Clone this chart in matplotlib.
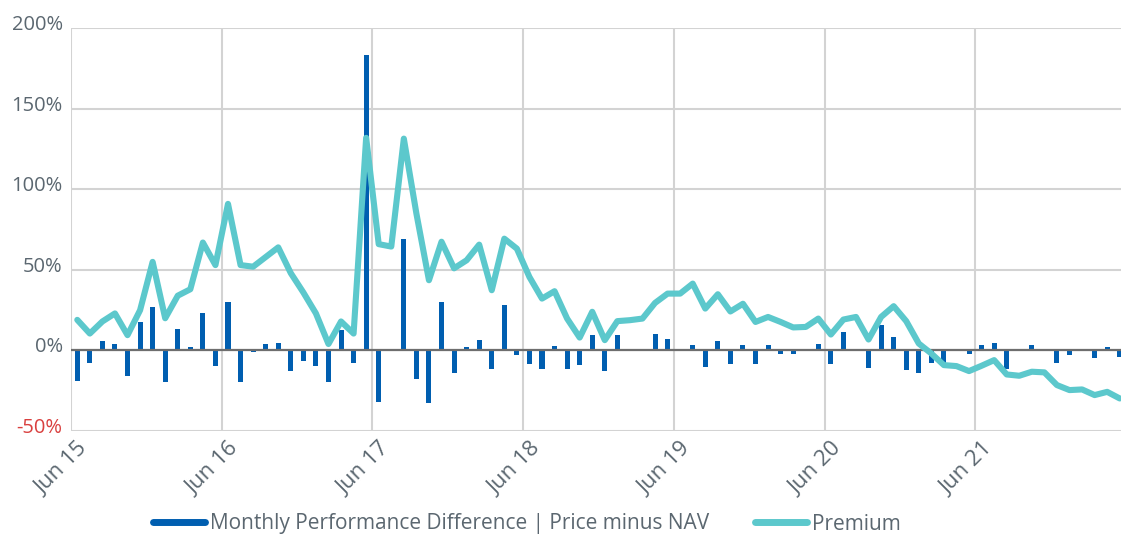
import numpy as np
import matplotlib
matplotlib.use("Agg")
import matplotlib.pyplot as plt
from matplotlib.lines import Line2D
from matplotlib.transforms import ScaledTranslation

# monthly data starting Jun 2015, values in %
premium = [19, 10.5, 18, 23, 9.5, 25, 55, 20, 34, 38, 67, 53,
           91, 53, 52, 58, 64, 48, 36, 23, 4, 18, 10.5, 132,
           66, 64.5, 131.5, 85, 43.6, 67.5, 51, 56, 65.7, 37.4, 69.4, 63.2,
           45.6, 32.2, 36.8, 19.8, 8, 24, 6.4, 18.2, 18.8, 19.8, 29.5, 35.3,
           35.3, 41.5, 26, 34.9, 24.2, 29, 17.7, 20.8, 17.7, 14.3, 14.6, 19.8,
           9.9, 19.2, 20.8, 6.8, 20.8, 27.5, 18.2, 4.3, -1.9, -9.1, -9.7, -12.8,
           -9.5, -6, -14.9, -15.7, -13.2, -13.6, -21.5, -24.6, -24.2, -27.7, -25.7, -29.8]

perf_diff = [-19, -8, 6, 4.3, -15.7, 17.4, 26.7, -19.4, 13.6, 2, 23, -9.5,
             30, -19.8, -0.8, 4.3, 4.5, -12.8, -6.6, -9.7, -19.4, 12.6, -7.6, 183.5,
             -32, -0.6, 69, -18, -32.7, 30, -14.2, 1.9, 6.8, -11.8, 28.5, -2.9,
             -8.7, -11.6, 2.9, -11.8, -8.9, 9.3, -12.6, 9.5, 0.6, 0.6, 10.3, 7.4,
             0.2, 3.7, -10.1, 5.8, -8.5, 3.1, -8.5, 3.3, -1.9, -1.9, 0.8, 4.3,
             -8.1, 11.2, 1.2, -10.6, 15.7, 8.5, -12.2, -13.8, -7.6, -7.6, 0, -1.9,
             3.3, 4.8, -11.2, -0.4, 3.7, -0.4, -7.6, -2.9, 0.8, -4.5, 2.3, -4.3]

tick_labels = ["Jun 15", "Jun 16", "Jun 17", "Jun 18", "Jun 19", "Jun 20", "Jun 21"]
y_ticks = [-50, 0, 50, 100, 150, 200]

BLUE = "#005eb0"
TEAL = "#5cc8cc"
TXT = "#5b6770"
RED = "#d9403f"

plt.rcParams["font.family"] = ["Open Sans", "DejaVu Sans"]

fig = plt.figure(figsize=(11.21, 5.37), dpi=100)
ax = fig.add_axes([71 / 1121, 1 - 431 / 537, 1 - 71 / 1121, (431 - 28.3) / 537])

n = len(premium)
x = np.arange(n) + 0.5

ax.bar(x, perf_diff, width=0.4, color=BLUE, zorder=2)
ax.axhline(0, color="#6e6e6e", lw=1.6, zorder=3)
ax.plot(x, premium, color=TEAL, lw=4.4, solid_joinstyle="round", solid_capstyle="round", zorder=4)

ax.set_xlim(0, 83.6)
ax.set_ylim(-50, 200)
ax.set_yticks(y_ticks)
ax.set_yticklabels([f"{v}%" for v in y_ticks])
ax.set_xticks(np.arange(len(tick_labels)) * 12)
ax.set_xticklabels(tick_labels)

for s in ax.spines.values():
    s.set_visible(False)
ax.grid(True, color="#d3d3d3", lw=1.5, zorder=0)
ax.set_axisbelow(True)
ax.tick_params(length=0, colors=TXT)
ax.tick_params(axis="y", pad=6, labelsize=14.5)
ax.tick_params(axis="x", pad=0, labelsize=16)

for lab in ax.get_yticklabels():
    lab.set_verticalalignment("baseline")
    lab.set_transform(lab.get_transform() + ScaledTranslation(0, -2 / 100, fig.dpi_scale_trans))
ax.get_yticklabels()[0].set_color(RED)

for lab in ax.get_xticklabels():
    lab.set_rotation(45)
    lab.set_rotation_mode("anchor")
    lab.set_ha("right")
    lab.set_va("center")
    lab.set_transform(lab.get_transform() + ScaledTranslation(14 / 100, -15 / 100, fig.dpi_scale_trans))

handles = [Line2D([], [], color=BLUE, lw=5, solid_capstyle="round"),
           Line2D([], [], color=TEAL, lw=5, solid_capstyle="round")]
leg = fig.legend(handles, ["Monthly Performance Difference | Price minus NAV", "Premium"],
                 loc="center", bbox_to_anchor=(527 / 1121, 1 - 524 / 537), ncol=2,
                 frameon=False, fontsize=15, handlelength=2.5, handletextpad=0.25,
                 columnspacing=2.2, labelcolor=TXT)

fig.savefig("out.png", dpi=100)
